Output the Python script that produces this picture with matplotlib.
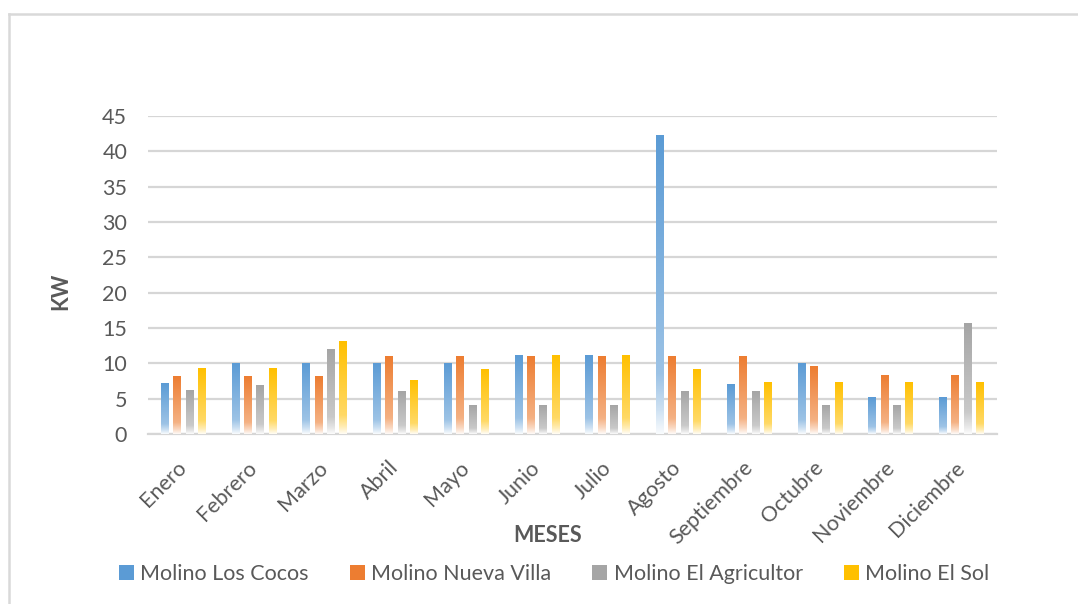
import numpy as np
import matplotlib
matplotlib.use('Agg')
import matplotlib.pyplot as plt
from matplotlib.colors import to_rgb
from matplotlib.patches import Rectangle
from matplotlib.lines import Line2D

plt.rcParams['font.family'] = ['Lato', 'DejaVu Sans']

meses = ['Enero', 'Febrero', 'Marzo', 'Abril', 'Mayo', 'Junio', 'Julio',
         'Agosto', 'Septiembre', 'Octubre', 'Noviembre', 'Diciembre']
los_cocos = [7.2, 10, 10, 10, 10, 11.1, 11.1, 42.2, 7.0, 10, 5.2, 5.2]
nueva_villa = [8.2, 8.2, 8.2, 11, 11, 11, 11, 11, 11, 9.6, 8.3, 8.3]
el_agricultor = [6.2, 6.9, 11.9, 6.0, 4.0, 4.0, 4.0, 6.0, 6.0, 4.0, 4.0, 15.6]
el_sol = [9.2, 9.2, 13.1, 7.6, 9.1, 11.1, 11.1, 9.1, 7.3, 7.3, 7.3, 7.3]

nombres = ['Molino Los Cocos', 'Molino Nueva Villa',
           'Molino El Agricultor', 'Molino El Sol']
series = [los_cocos, nueva_villa, el_agricultor, el_sol]
colores = ['#5B9BD5', '#ED7D31', '#A5A5A5', '#FFC000']

texto = '#595959'
rejilla = '#d6d6d6'
fs = 15.5


def gradiente(color, n=256):
    # solid colour at the top, fading towards white at the base
    c = np.array(to_rgb(color))
    t = np.linspace(0, 1, n)
    blanco = np.interp(t, [0, 0.8, 0.92, 1.0], [0.0, 0.4, 0.7, 0.96])
    img = c[None, :] * (1 - blanco[:, None]) + blanco[:, None]
    return img[:, None, :]


fig = plt.figure(figsize=(10.78, 6.04), dpi=100)
ax = fig.add_axes([148 / 1078, 1 - 434 / 604, (997 - 148) / 1078, (434 - 116) / 604])

x = np.arange(len(meses))
paso = 0.174
ancho = 0.113
for j, (vals, col) in enumerate(zip(series, colores)):
    img = gradiente(col)
    for i, v in enumerate(vals):
        xc = x[i] + (j - 1.5) * paso
        ax.imshow(img, extent=[xc - ancho / 2, xc + ancho / 2, 0, v],
                  aspect='auto', origin='upper', zorder=3,
                  interpolation='bilinear')

ax.set_xlim(-0.5, len(meses) - 0.5)
ax.set_ylim(0, 45)
ax.set_yticks(np.arange(0, 46, 5))
ax.set_xticks(x)
ax.set_xticklabels(meses, rotation=45, ha='right', va='center',
                   rotation_mode='anchor')
ax.tick_params(axis='x', length=0, pad=22, labelsize=fs, labelcolor=texto)
ax.tick_params(axis='y', length=0, pad=15, labelsize=fs, labelcolor=texto)

for s in ['top', 'right', 'left']:
    ax.spines[s].set_visible(False)
ax.spines['bottom'].set_color(rejilla)
ax.spines['bottom'].set_linewidth(1.6)
ax.grid(axis='y', color=rejilla, linewidth=1.6, zorder=0)
ax.set_axisbelow(True)

fig.text(61 / 1078, 1 - 291 / 604, 'KW', rotation=90, ha='center',
         va='center', fontsize=fs, fontweight='bold', color=texto)
fig.text(548 / 1078, 1 - 535 / 604, 'MESES', ha='center', va='center',
         fontsize=fs, fontweight='bold', color=texto)

handles = [Rectangle((0, 0), 1, 1, facecolor=c, edgecolor='none')
           for c in colores]
fig.legend(handles, nombres, loc='center', ncol=4,
           bbox_to_anchor=(554 / 1078, 1 - 574 / 604), frameon=False,
           fontsize=fs, labelcolor=texto, handlelength=0.7,
           handleheight=0.7, handletextpad=0.3, columnspacing=1.9)

# chart area border
fig.add_artist(Line2D([9 / 1078, 9 / 1078], [0, 1 - 14 / 604],
                      transform=fig.transFigure, color='#d9d9d9', lw=1.8))
fig.add_artist(Line2D([9 / 1078, 1], [1 - 14 / 604, 1 - 14 / 604],
                      transform=fig.transFigure, color='#d9d9d9', lw=1.8))

fig.savefig('out.png', dpi=100)
